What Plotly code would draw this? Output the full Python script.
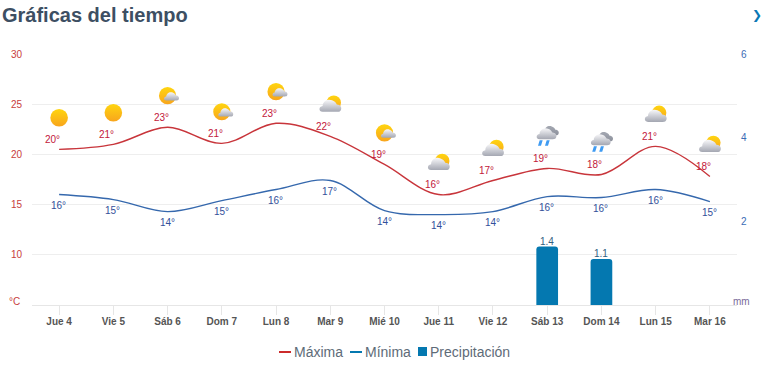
import base64
import plotly.graph_objects as go

days = ["Jue 4", "Vie 5", "Sáb 6", "Dom 7", "Lun 8", "Mar 9", "Mié 10", "Jue 11", "Vie 12", "Sáb 13", "Dom 14", "Lun 15", "Mar 16"]
max_curve = [20.5, 21.0, 22.7, 21.1, 23.1, 21.8, 19.0, 16.0, 17.4, 18.6, 18.0, 20.8, 17.8]
min_curve = [16.0, 15.5, 14.3, 15.4, 16.5, 17.4, 14.4, 14.0, 14.3, 15.8, 15.7, 16.5, 15.3]
max_labels = ["20°", "21°", "23°", "21°", "23°", "22°", "19°", "16°", "17°", "19°", "18°", "21°", "18°"]
min_labels = ["16°", "15°", "14°", "15°", "16°", "17°", "14°", "14°", "14°", "16°", "16°", "16°", "15°"]
precip = [None, None, None, None, None, None, None, None, None, 1.4, 1.1, None, None]
icons = ["sun", "sun", "partly", "partly", "partly", "cloudy", "partly", "cloudy", "cloudy", "rain", "rain", "cloudy", "cloudy"]

RED = "#c8353b"
BLUE = "#3568ad"
LEG_RED = "#cc2b2b"
BAR = "#0478b0"
MAXTXT = "#c2173a"
MINTXT = "#33509a"
FONT = "Liberation Sans, Arial, sans-serif"

DEFS = """<defs>
<linearGradient id='s' x1='0' y1='0' x2='0' y2='1'><stop offset='0' stop-color='#ffd50f'/><stop offset='1' stop-color='#f8a51d'/></linearGradient>
<linearGradient id='c' x1='0' y1='0' x2='0' y2='1'><stop offset='0' stop-color='#f8f8fa'/><stop offset='1' stop-color='#a4a7b2'/></linearGradient>
<linearGradient id='d' x1='0' y1='0' x2='0' y2='1'><stop offset='0' stop-color='#a4a8b2'/><stop offset='1' stop-color='#8d919c'/></linearGradient>
</defs>"""


def cloud(x, y, s, fill):
    return (f"<g transform='translate({x} {y}) scale({s})' fill='url(#{fill})'>"
            "<path d='M3 13 C-1 13 -1 8 3 7.5 C3 3 8 0 12 2 C15 3 16 5 16.5 6 C20 6 21.5 9 20.5 11 C20 12.5 19 13 17 13 Z'/></g>")


def svg(kind):
    if kind == "sun":
        body = "<circle cx='15' cy='15' r='8.8' fill='url(#s)'/>"
    elif kind == "partly":
        body = "<circle cx='15' cy='15' r='8.6' fill='url(#s)'/>" + cloud(11.5, 10.5, 0.72, "c")
    elif kind == "cloudy":
        body = "<circle cx='18.5' cy='13' r='7.2' fill='url(#s)'/>" + cloud(4.2, 8.5, 1.05, "c")
    else:
        body = (cloud(10, 3, 0.8, "d") + cloud(4.5, 5, 0.95, "c")
                + "<path d='M7.5 18.5 L10.5 18.5 L8.8 24 L5.8 24 Z M14.5 18.5 L17.5 18.5 L15.8 24 L12.8 24 Z' fill='#3f9bf2'/>")
    doc = f"<svg xmlns='http://www.w3.org/2000/svg' width='30' height='30' viewBox='0 0 30 30'>{DEFS}{body}</svg>"
    return "data:image/svg+xml;base64," + base64.b64encode(doc.encode()).decode()


fig = go.Figure()
fig.add_trace(go.Bar(x=days, y=precip, yaxis="y2", width=0.4, marker=dict(color=BAR, cornerradius=3, line_width=0),
                     name="Precipitación", showlegend=False))
fig.add_trace(go.Scatter(x=days, y=max_curve, mode="lines", line=dict(color=RED, width=1.4, shape="spline", smoothing=1.0),
                         name="Máxima", showlegend=False))
fig.add_trace(go.Scatter(x=days, y=min_curve, mode="lines", line=dict(color=BLUE, width=1.4, shape="spline", smoothing=1.0),
                         name="Mínima", showlegend=False))

ann = []
images = []
for d, v, lab, kind in zip(days, max_curve, max_labels, icons):
    ann.append(dict(x=d, y=v, text=lab, showarrow=False, xshift=-6.5, yshift=10,
                    font=dict(size=10, color=MAXTXT, family=FONT)))
    images.append(dict(source=svg(kind), xref="x", yref="y", x=d, y=v + 3.15, sizex=0.553, sizey=3.0,
                       xanchor="center", yanchor="middle", layer="above"))
for d, v, lab in zip(days, min_curve, min_labels):
    ann.append(dict(x=d, y=v, text=lab, showarrow=False, xshift=-0.5, yshift=-11,
                    font=dict(size=10, color=MINTXT, family=FONT)))
for d, v in zip(days, precip):
    if v is not None:
        ann.append(dict(x=d, y=v, yref="y2", text=f"{v}", showarrow=False, yshift=5,
                        font=dict(size=10, color="#33607f", family=FONT)))


def psx(px):
    return (px - 32) / 705


def psy(py):
    return (305 - py) / 251


def paper_text(px, py, text, size, color, bold=False, xanchor="left"):
    return dict(x=psx(px), y=psy(py), xref="paper", yref="paper", xanchor=xanchor, yanchor="middle",
                text=f"<b>{text}</b>" if bold else text, showarrow=False, borderpad=0, xshift=-1,
                font=dict(size=size, color=color, family=FONT))


ann += [
    paper_text(2, 15, "Gráficas del tiempo", 20, "#3d4f63", bold=True),
    paper_text(752, 15, "❯", 12, "#0a78b5"),
    paper_text(22, 301, "°C", 10, "#c8403c", xanchor="right"),
    paper_text(733, 301, "mm", 10, "#7a6a9a"),
    paper_text(294, 352, "Máxima", 14, "#5e6b78"),
    paper_text(365, 352, "Mínima", 14, "#5e6b78"),
    paper_text(430, 352, "Precipitación", 14, "#5e6b78"),
]

shapes = [
    dict(type="line", xref="paper", yref="paper", x0=psx(279), x1=psx(291), y0=psy(352), y1=psy(352), line=dict(color=LEG_RED, width=2)),
    dict(type="line", xref="paper", yref="paper", x0=psx(350), x1=psx(362), y0=psy(352), y1=psy(352), line=dict(color=BAR, width=2)),
    dict(type="rect", xref="paper", yref="paper", x0=psx(418), x1=psx(427), y0=psy(347), y1=psy(356), fillcolor=BAR, line_width=0),
]

fig.update_layout(
    width=762, height=368, margin=dict(l=32, r=25, t=54, b=63, autoexpand=False),
    paper_bgcolor="white", plot_bgcolor="white", showlegend=False, barmode="overlay",
    font=dict(family=FONT),
    annotations=ann, images=images, shapes=shapes,
    xaxis=dict(type="category", categoryorder="array", categoryarray=days, range=[-0.5, 12.5], showgrid=False,
               showline=True, linecolor="#e6e6e6", linewidth=1, ticks="outside", ticklen=9, tickcolor="#e6e6e6",
               tickfont=dict(size=10, color="#555", family=FONT), tickprefix="<b>", ticksuffix="</b>", ticklabelstandoff=-2),
    yaxis=dict(range=[5, 30], tickvals=[10, 15, 20, 25, 30], ticks="", showgrid=True, gridcolor="#eeeeee", gridwidth=1,
               zeroline=False, showline=False, tickfont=dict(size=10, color="#c8403c", family=FONT), ticklabelstandoff=9),
    yaxis2=dict(range=[0, 6], overlaying="y", side="right", tickvals=[2, 4, 6], showgrid=False, zeroline=False,
                tickfont=dict(size=10, color="#3b6cb5", family=FONT), ticklabelstandoff=3),
)
fig.write_html("out.html", config={"displayModeBar": False},
               post_script="document.documentElement.style.overflow='hidden';document.body.style.margin='0';")
